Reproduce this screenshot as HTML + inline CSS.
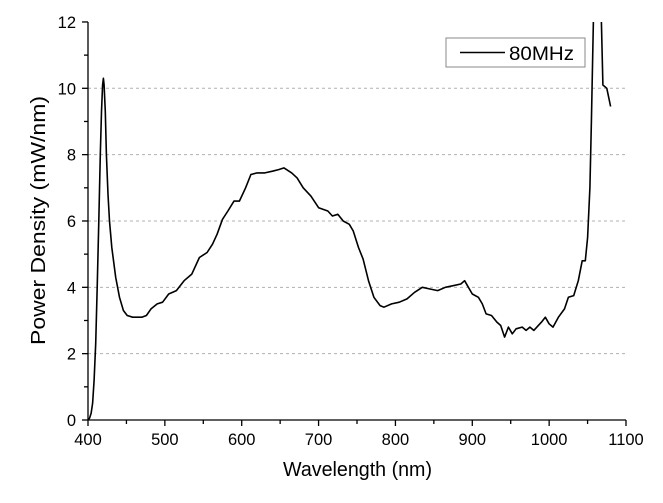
<!DOCTYPE html>
<html><head><meta charset="utf-8"><style>
html,body{margin:0;padding:0;background:#fff}
svg{display:block}
text{font-family:"Liberation Sans",Arial,sans-serif;fill:#000}
</style></head><body>
<svg id="s" width="663" height="503" viewBox="0 0 663 503">
<defs><clipPath id="c"><rect x="88" y="22" width="540" height="399"/></clipPath></defs>
<g id="grid" stroke="#b0b0b0" stroke-width="1" stroke-dasharray="3,3"></g>
<g id="axes" stroke="#000" stroke-width="1.3" fill="none"></g>
<g id="labels" font-size="16.5"></g>
<path id="p" clip-path="url(#c)" fill="none" stroke="#000" stroke-width="1.6" stroke-linejoin="round"/>
<rect x="446" y="38" width="139" height="29" fill="#fff" stroke="#888" stroke-width="1"/>
<line x1="460" y1="52.5" x2="505" y2="52.5" stroke="#000" stroke-width="1.6"/>
<text x="509" y="60" font-size="19" textLength="65" lengthAdjust="spacingAndGlyphs">80MHz</text>
<text x="283" y="476" font-size="20" textLength="149" lengthAdjust="spacingAndGlyphs">Wavelength (nm)</text>
<text transform="translate(45,345) rotate(-90)" font-size="20" textLength="249" lengthAdjust="spacingAndGlyphs">Power Density (mW/nm)</text>
</svg>
<script>
const X=v=>88+(v-400)*538/700, Y=v=>420-v*33.17;
const ns="http://www.w3.org/2000/svg";
function el(p,t,a,txt){const e=document.createElementNS(ns,t);for(const k in a)e.setAttribute(k,a[k]);if(txt!==undefined)e.textContent=txt;document.getElementById(p).appendChild(e);}
for(let v=2;v<=10;v+=2)el("grid","line",{x1:88,x2:626,y1:Y(v),y2:Y(v)});
el("axes","line",{x1:88,x2:88,y1:22,y2:420.5});
el("axes","line",{x1:87.5,x2:626,y1:420,y2:420});
for(let v=0;v<=12;v++){el("axes","line",{x1:v%2?84:82,x2:88,y1:Y(v),y2:Y(v)});if(v%2==0)el("labels","text",{x:76,y:Y(v)+6,"text-anchor":"end"},v);}
for(let v=400;v<=1100;v+=50){el("axes","line",{x1:X(v),x2:X(v),y1:420,y2:v%100?424:426});if(v%100==0)el("labels","text",{x:X(v),y:445,"text-anchor":"middle"},v);}
const d=[400,0,402,0.05,404,0.2,406,0.5,408,1.2,410,2.3,412,4,414,6,416,8,417.5,9.3,419,10.1,420,10.3,421,10.1,422.5,9.3,424,8,426,6.8,428,6,431,5.2,436,4.3,441,3.7,446,3.3,451,3.15,458,3.1,470,3.1,476,3.15,482,3.35,490,3.5,497,3.55,505,3.8,515,3.9,525,4.2,535,4.4,545,4.9,555,5.05,562,5.3,568,5.6,575,6.05,582,6.3,590,6.6,597,6.6,605,7.0,612,7.4,620,7.45,630,7.45,640,7.5,648,7.55,655,7.6,665,7.45,672,7.3,680,7.0,690,6.75,700,6.4,712,6.3,718,6.15,725,6.2,732,6.0,740,5.9,745,5.7,752,5.2,758,4.85,765,4.2,772,3.7,780,3.45,785,3.4,795,3.5,805,3.55,815,3.65,825,3.85,835,4.0,845,3.95,855,3.9,865,4.0,875,4.05,885,4.1,890,4.2,895,4.0,900,3.8,908,3.7,913,3.5,918,3.2,925,3.15,932,2.95,937,2.85,942,2.5,947,2.8,952,2.6,957,2.75,965,2.8,970,2.7,975,2.8,980,2.7,990,2.95,995,3.1,1000,2.9,1005,2.8,1012,3.1,1020,3.35,1025,3.7,1032,3.75,1038,4.2,1043,4.8,1047,4.8,1050,5.5,1053,7,1055,9,1058,12.5,1060,14,1066,14,1068,12,1070,10.1,1075,10.0,1080,9.45];
let s="";for(let i=0;i<d.length;i+=2)s+=(i?"L":"M")+X(d[i]).toFixed(1)+","+Y(d[i+1]).toFixed(1);
document.getElementById("p").setAttribute("d",s);
</script>
</body></html>
